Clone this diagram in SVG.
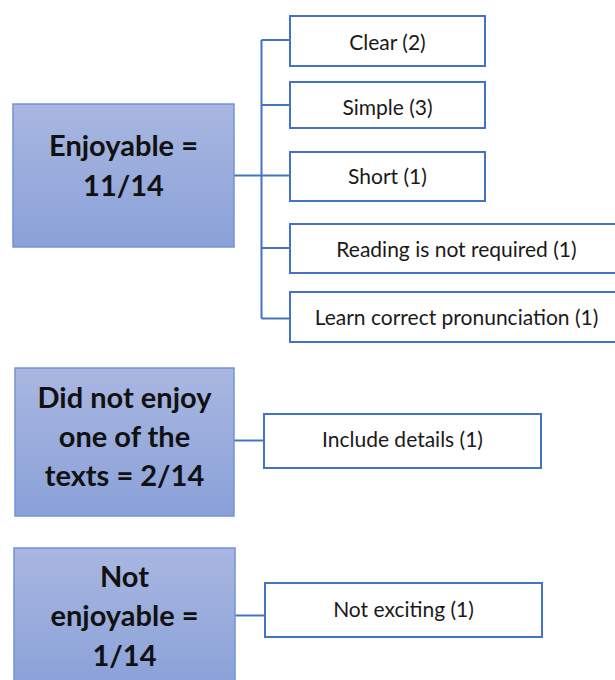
<svg xmlns="http://www.w3.org/2000/svg" width="615" height="680" viewBox="0 0 615 680">
  <defs>
    <linearGradient id="catFill" x1="0" y1="0" x2="0" y2="1">
      <stop offset="0" stop-color="#a9b7e1"/>
      <stop offset="1" stop-color="#8aa1d8"/>
    </linearGradient>
    <style>
      .cat rect { fill: url(#catFill); stroke: #7393d6; stroke-width: 1.5; }
      .cat text { font-family: "Lato", "Liberation Sans", sans-serif; font-weight: bold; font-size: 29px; fill: #111; text-anchor: middle; }
      .item rect { fill: #fff; stroke: #4472c4; stroke-width: 2; }
      .item text { font-family: "Lato", "Liberation Sans", sans-serif; font-size: 21px; fill: #1a1a1a; text-anchor: middle; }
      #connectors path { fill: none; stroke: #4472c4; stroke-width: 2; }
    </style>
  </defs>
  <rect width="615" height="680" fill="#fff"/>

  <!-- tree connectors -->
  <g id="connectors">
    <path d="M234 175.5 H261.5 M261.5 40 V318.5 M261.5 40 H290 M261.5 105 H290 M261.5 175.5 H290 M261.5 248 H290 M261.5 318.5 H290"/>
    <path d="M234 440.5 H264"/>
    <path d="M235 615.5 H265"/>
  </g>

  <!-- category nodes -->
  <g id="cat-enjoyable" class="cat">
    <rect x="13" y="104" width="221" height="143"/>
    <text x="123.5" y="155.5">Enjoyable =</text>
    <text x="123.5" y="195.5">11/14</text>
  </g>
  <g id="cat-did-not-enjoy" class="cat">
    <rect x="15" y="368" width="219" height="148"/>
    <text x="124.5" y="408">Did not enjoy</text>
    <text x="124.5" y="447">one of the</text>
    <text x="124.5" y="486">texts = 2/14</text>
  </g>
  <g id="cat-not-enjoyable" class="cat">
    <rect x="14" y="548" width="221" height="140"/>
    <text x="124.5" y="587">Not</text>
    <text x="124.5" y="626">enjoyable =</text>
    <text x="124.5" y="666">1/14</text>
  </g>

  <!-- reason nodes -->
  <g id="item-clear" class="item">
    <rect x="290" y="16" width="195" height="50"/>
    <text x="387.5" y="50">Clear (2)</text>
  </g>
  <g id="item-simple" class="item">
    <rect x="290" y="82" width="195" height="46"/>
    <text x="387.5" y="115">Simple (3)</text>
  </g>
  <g id="item-short" class="item">
    <rect x="290" y="152" width="195" height="49"/>
    <text x="387.5" y="184">Short (1)</text>
  </g>
  <g id="item-reading" class="item">
    <rect x="290" y="224" width="335" height="49"/>
    <text x="456.5" y="257">Reading is not required (1)</text>
  </g>
  <g id="item-pronunciation" class="item">
    <rect x="290" y="292" width="335" height="50"/>
    <text x="456.5" y="325">Learn correct pronunciation (1)</text>
  </g>
  <g id="item-details" class="item">
    <rect x="264" y="414" width="277" height="54"/>
    <text x="402.5" y="447">Include details (1)</text>
  </g>
  <g id="item-exciting" class="item">
    <rect x="265" y="583" width="277" height="54"/>
    <text x="403.5" y="617">Not exciting (1)</text>
  </g>
</svg>
